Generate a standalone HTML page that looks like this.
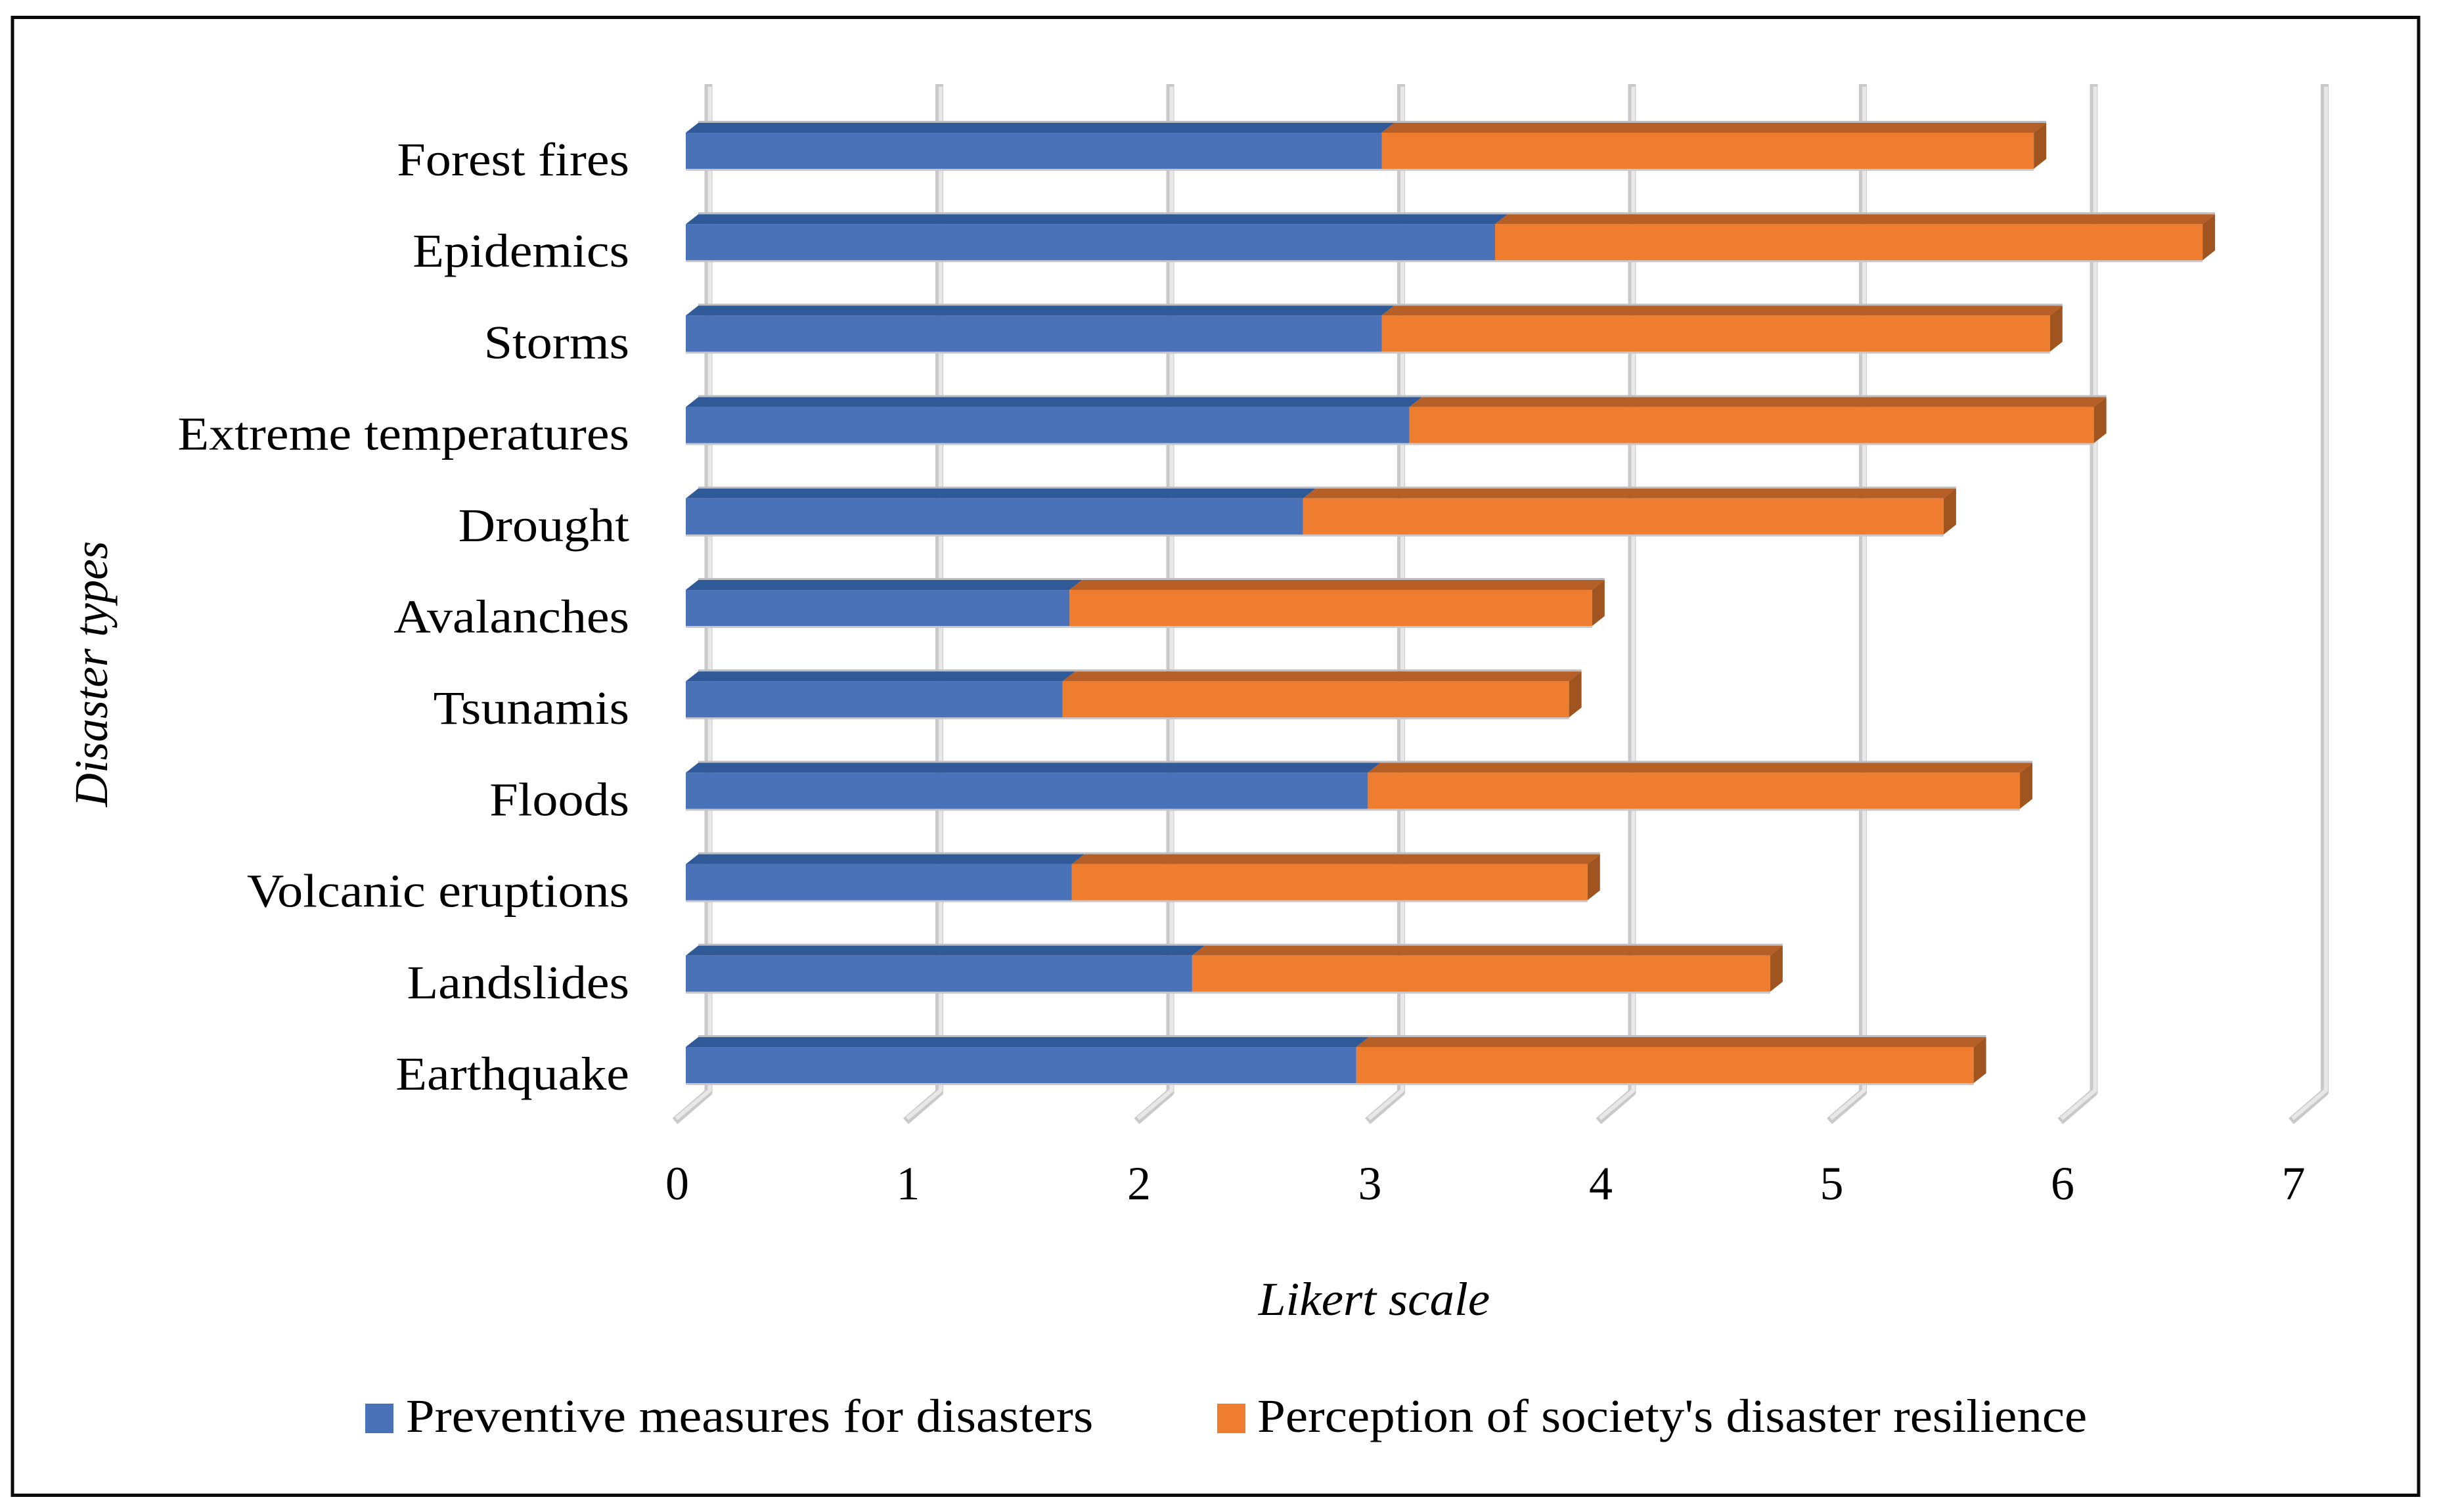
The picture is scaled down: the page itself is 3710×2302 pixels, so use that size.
<!DOCTYPE html>
<html lang="en">
<head>
<meta charset="utf-8">
<title>Disaster types on a Likert scale</title>
<style>
html,body{margin:0;padding:0;background:#fff;width:3710px;height:2302px;overflow:hidden}
svg{display:block}
text{font-family:"Liberation Serif",serif;fill:#000}
</style>
</head>
<body>
<svg id="chart" xmlns="http://www.w3.org/2000/svg" width="3710" height="2302" viewBox="0 0 3710 2302">
  <rect x="0" y="0" width="3710" height="2302" fill="#fff"/>
  <rect x="19" y="26.5" width="3663" height="2250" fill="none" stroke="#0a0a0a" stroke-width="5"/>
  <g id="grid"></g>
  <g id="bars"></g>
  <g id="cats"></g>
  <g id="ticks"></g>
  <text id="xtitle" x="2092" y="2002" font-size="72" font-style="italic" text-anchor="middle">Likert scale</text>
  <text id="ytitle" transform="translate(163 1026) rotate(-90)" font-size="72" font-style="italic" text-anchor="middle">Disaster types</text>
  <rect x="556" y="2137" width="43" height="45" fill="#4a72b8"/>
  <text id="lg1" x="618" y="2180" font-size="72">Preventive measures for disasters</text>
  <rect x="1853" y="2137" width="43" height="45" fill="#ee7d2f"/>
  <text id="lg2" x="1914" y="2180" font-size="72">Perception of society's disaster resilience</text>
</svg>
<script>
const categories = ["Forest fires","Epidemics","Storms","Extreme temperatures","Drought","Avalanches","Tsunamis","Floods","Volcanic eruptions","Landslides","Earthquake"];
const preventiveValues = [3.01,3.50,3.01,3.13,2.67,1.66,1.63,2.95,1.67,2.19,2.90];
const perceptionValues = [2.82,3.06,2.89,2.96,2.77,2.26,2.19,2.82,2.23,2.50,2.67];
const tickLabels = ["0","1","2","3","4","5","6","7"];

const NS = "http://www.w3.org/2000/svg";
const X0 = 1044, UNIT = 352, GRID_X0 = 1078.5, GRID_UNIT = 351.5;
const FIRST_BOTTOM = 257, PITCH = 139.2;
const FRONT_H = 55, DX = 19, DY = 15;
const xScale = v => X0 + v * UNIT;
const gridScale = v => GRID_X0 + v * GRID_UNIT;
const bottomOf = i => FIRST_BOTTOM + i * PITCH;

function make(tag, attrs, parent){
  const el = document.createElementNS(NS, tag);
  for (const k in attrs) el.setAttribute(k, attrs[k]);
  parent.appendChild(el);
  return el;
}
const pts = a => a.map(p => p.join(",")).join(" ");

const grid = document.getElementById("grid");
tickLabels.forEach(t => {
  const x = gridScale(+t);
  const bot = 1663, top = 128;
  const outer = make("polyline", {points: pts([[x-51,1707],[x,bot],[x,top]]), fill:"none", stroke:"#c9c9c9", "stroke-width":12, "stroke-linejoin":"round"}, grid);
  
  
  const inner = make("polyline", {points: pts([[x-49,1703],[x+2,1660],[x+2,top+4]]), fill:"none", stroke:"#e8e8e8", "stroke-width":6}, grid);
  
  
});

const bars = document.getElementById("bars");
function segment(x1, x2, yb, front, topC, name){
  const yf = yb - FRONT_H;
  const shade = make("rect", {x:x1+DX, y:yf-DY-3, width:x2-x1, height:3, fill:"#bdbdc4"}, bars);
  
  
  const under = make("rect", {x:x1, y:yb, width:x2-x1, height:3, fill:"#c8c8cc"}, bars);
  
  
  const top = make("polygon", {points: pts([[x1,yf],[x1+DX,yf-DY],[x2+DX,yf-DY],[x2,yf]]), fill:topC}, bars);
  
  
  const face = make("rect", {x:x1, y:yf, width:x2-x1, height:FRONT_H, fill:front}, bars);
  
  
}
categories.forEach((c, i) => {
  const yb = bottomOf(i), yf = yb - FRONT_H;
  const a = xScale(0), b = xScale(preventiveValues[i]), e = xScale(preventiveValues[i] + perceptionValues[i]);
  segment(a, b, yb, "#4a72b8", "#2f5a97", "bar-preventive");
  segment(b, e, yb, "#ee7d2f", "#b55f26", "bar-perception");
  const side = make("polygon", {points: pts([[e,yf],[e+DX,yf-DY],[e+DX,yb-DY],[e,yb]]), fill:"#a05520"}, bars);
  
  
});

const cats = document.getElementById("cats");
categories.forEach((c, i) => {
  const t = make("text", {x:958, y:bottomOf(i)+10, "font-size":72, "text-anchor":"end"}, cats);
  
  
  t.textContent = c;
});
const ticks = document.getElementById("ticks");
tickLabels.forEach(t => {
  const el = make("text", {x:gridScale(+t)-47.5, y:1826, "font-size":72, "text-anchor":"middle"}, ticks);
  
  
  el.textContent = t;
});

function widen(el, f){
  const w = el.getComputedTextLength();
  el.setAttribute("textLength", w * f);
  el.setAttribute("lengthAdjust", "spacingAndGlyphs");
}
document.querySelectorAll("#cats text").forEach(el => widen(el, 1.085));
widen(document.getElementById("lg1"), 1.088);
widen(document.getElementById("lg2"), 1.07);
widen(document.getElementById("xtitle"), 1.043);
widen(document.getElementById("ytitle"), 0.987);
</script>
</body>
</html>
